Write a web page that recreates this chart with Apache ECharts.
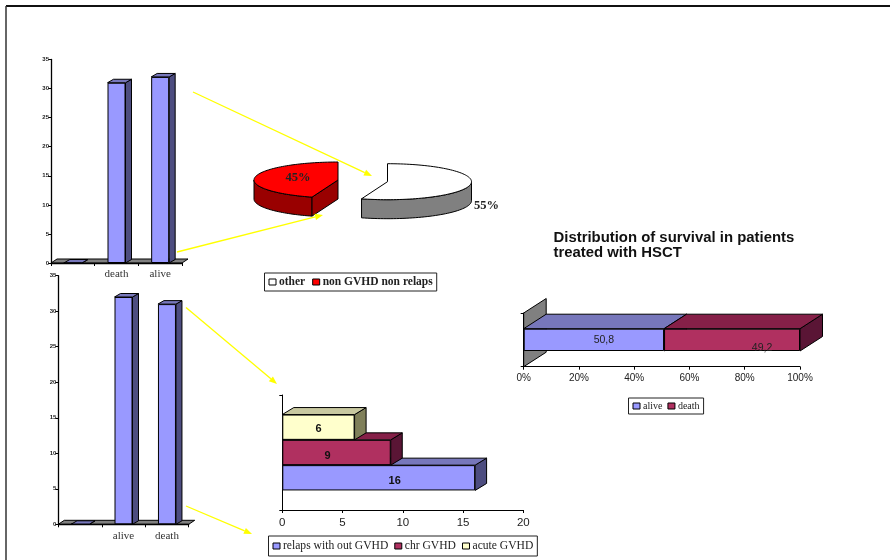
<!DOCTYPE html>
<html>
<head>
<meta charset="utf-8">
<title>Survival and outcomes after HSCT</title>
<style>html,body{margin:0;padding:0;background:#fff}#chart{width:890px;height:560px}</style>
<script src="https://cdn.jsdelivr.net/npm/echarts@6/dist/echarts.min.js"></script>
</head>
<body>
<div id="chart"></div>
<script>
// Values shown in each panel
var deathAliveCategories = ['', 'death', 'alive'];
var deathAliveValues = [0, 31, 32];
var aliveDeathCategories = ['', 'alive', 'death'];
var aliveDeathValues = [0, 32, 31];
var pieOther = 55;
var pieNonGvhd = 45;
var relapseNames = ['relaps with out GVHD', 'chr GVHD', 'acute GVHD'];
var relapseValues = [16, 9, 6];
var survivalNames = ['alive', 'death'];
var survivalValues = [50.8, 49.2];
var titleText = 'Distribution of survival in patients\ntreated with HSCT';

// Face colours of the extruded marks
var BLUE = { front: '#9999ff', top: '#7777bb', side: '#4d4d80' };
var WINE = { front: '#b03060', top: '#862048', side: '#5a1535' };
var CREAM = { front: '#ffffcc', top: '#c8c8a0', side: '#80805a' };
var SANS = '"Liberation Sans", Arial, sans-serif';
var SERIF = '"Liberation Serif", "Times New Roman", serif';

function txt(color, size, family, weight) {
  return { color: color, fontSize: size, fontFamily: family, fontWeight: weight || 'normal' };
}

function poly(points, fill, z2) {
  return {
    type: 'polygon', z2: z2 || 0,
    shape: { points: points },
    style: { fill: fill, stroke: '#000', lineWidth: 1 }
  };
}

// Side and top faces behind a bar rectangle x0..x1, y0 (top)..y1 (bottom)
function depthFaces(x0, y0, x1, y1, dx, dy, colors) {
  return [
    poly([[x1, y0], [x1 + dx, y0 + dy], [x1 + dx, y1 + dy], [x1, y1]], colors.side),
    poly([[x0, y0], [x0 + dx, y0 + dy], [x1 + dx, y0 + dy], [x1, y0]], colors.top)
  ];
}

// Upright bars: extrusion of each value on a category axis
function columnDepth(gridIndex, barWidth, dx, dy, colors) {
  return {
    type: 'custom', name: 'depth ' + gridIndex, xAxisIndex: gridIndex, yAxisIndex: gridIndex, z: 1,
    encode: { x: 0, y: 1 }, silent: true,
    renderItem: function (params, api) {
      var top = api.coord([api.value(0), api.value(1)]);
      var base = api.coord([api.value(0), 0]);
      return { type: 'group', children: depthFaces(top[0] - barWidth / 2, top[1], top[0] + barWidth / 2, base[1], dx, dy, colors) };
    }
  };
}

// Grey floor or wall plane following the axis
function floorPlane(gridIndex, dx, dy) {
  return {
    type: 'custom', name: 'floor ' + gridIndex, xAxisIndex: gridIndex, yAxisIndex: gridIndex, z: 0,
    data: [[0, 0]], silent: true,
    renderItem: function (params) {
      var c = params.coordSys, b = c.y + c.height;
      return poly([[c.x, b], [c.x + dx, b + dy], [c.x + c.width + dx, b + dy], [c.x + c.width, b]], '#808080');
    }
  };
}

function wallPlane(gridIndex, dx, dy) {
  return {
    type: 'custom', name: 'wall ' + gridIndex, xAxisIndex: gridIndex, yAxisIndex: gridIndex, z: 0,
    data: [[0, 0]], silent: true,
    renderItem: function (params) {
      var c = params.coordSys, b = c.y + c.height;
      return poly([[c.x, b], [c.x + dx, b + dy], [c.x + dx, c.y + dy], [c.x, c.y]], '#808080');
    }
  };
}

// Exploded elliptical wedge drawn from a share of the pie
function pieWedge(name, share, startShare, geom) {
  return {
    type: 'custom', name: name, coordinateSystem: 'none', z: 2, silent: true,
    data: [share], itemStyle: { color: geom.fill },
    renderItem: function () {
      var total = pieOther + pieNonGvhd;
      var a0 = startShare / total * 2 * Math.PI;
      var a1 = (startShare + share) / total * 2 * Math.PI;
      var cx = geom.cx, cy = geom.cy, rx = 84, ry = 18, depth = 19;
      var at = function (a) { return [cx + rx * Math.sin(a), cy - ry * Math.cos(a)]; };
      var arc = [], wall = [], i, a;
      for (i = 0; i <= 90; i++) {
        a = a0 + (a1 - a0) * i / 90;
        arc.push(at(a));
        if (Math.cos(a) <= 0) wall.push(at(a));
      }
      var lower = wall.slice().reverse().map(function (p) { return [p[0], p[1] + depth]; });
      var kids = [poly(wall.concat(lower), geom.wall)];
      if (geom.cutWall) {
        var v = at(a0);
        kids.push(poly([[cx, cy], v, [v[0], v[1] + depth], [cx, cy + depth]], geom.wall));
      }
      kids.push(poly([[cx, cy]].concat(arc), geom.fill));
      kids.push({
        type: 'text', z2: 5,
        style: {
          x: geom.labelX, y: geom.labelY, text: share + '%', align: 'center', verticalAlign: 'middle',
          fill: '#222', fontSize: 12.5, fontWeight: 'bold', fontFamily: SERIF
        }
      });
      return { type: 'group', children: kids };
    }
  };
}

// Horizontal clustered bars extruded in a single-category band
function clusterDepth(index, colors, dx, dy, barHeight) {
  return {
    type: 'custom', name: 'depth relapse ' + index, xAxisIndex: 2, yAxisIndex: 2, z: 1, silent: true,
    data: [[relapseValues[index], 0]], encode: { x: 0, y: 1 },
    renderItem: function (params, api) {
      var end = api.coord([api.value(0), 0]);
      var start = api.coord([0, 0]);
      var mid = end[1] - (index - 1) * barHeight;
      return { type: 'group', children: depthFaces(start[0], mid - barHeight / 2, end[0], mid + barHeight / 2, dx, dy, colors) };
    }
  };
}

// Stacked 100% segment extrusion
function stackDepth(index, colors, dx, dy, barHeight) {
  return {
    type: 'custom', name: 'depth survival ' + index, xAxisIndex: 3, yAxisIndex: 3, z: 1, silent: true,
    data: [[index ? survivalValues[0] : 0, survivalValues[index], 0]], encode: { x: [0, 1], y: 2 },
    renderItem: function (params, api) {
      var s = api.coord([api.value(0), 0]);
      var e = api.coord([api.value(0) + api.value(1), 0]);
      return { type: 'group', children: depthFaces(s[0], s[1] - barHeight / 2, e[0], s[1] + barHeight / 2, dx, dy, colors) };
    }
  };
}

function columnAxes(gridIndex, categories) {
  return {
    x: {
      type: 'category', gridIndex: gridIndex, data: categories,
      axisLine: { lineStyle: { color: '#000', width: 1.3 } },
      axisTick: { show: true, length: 3, lineStyle: { color: '#000' } },
      axisLabel: Object.assign(txt('#333', 11, SERIF), { margin: 6, interval: 0 })
    },
    y: {
      type: 'value', gridIndex: gridIndex, min: 0, max: 35, interval: 5,
      splitLine: { show: false },
      axisLine: { show: true, lineStyle: { color: '#000', width: 1.3 } },
      axisTick: { show: true, length: 3, lineStyle: { color: '#000' } },
      axisLabel: Object.assign(txt('#222', 6, SANS, 'bold'), { margin: 2 })
    }
  };
}

function frontBar(gridIndex, name, values) {
  return {
    type: 'bar', name: name, xAxisIndex: gridIndex, yAxisIndex: gridIndex, z: 3, data: values,
    barWidth: 18, itemStyle: { color: BLUE.front, borderColor: '#000', borderWidth: 1 }, silent: true
  };
}

function arrow(x0, y0, x1, y1) {
  var ang = Math.atan2(y1 - y0, x1 - x0), len = 8, half = 3.2;
  var bx = x1 - len * Math.cos(ang), by = y1 - len * Math.sin(ang);
  var nx = -Math.sin(ang) * half, ny = Math.cos(ang) * half;
  return [
    { type: 'line', z: 50, shape: { x1: x0, y1: y0, x2: bx, y2: by }, style: { stroke: '#ffff00', lineWidth: 1.3 } },
    { type: 'polygon', z: 50, shape: { points: [[x1, y1], [bx + nx, by + ny], [bx - nx, by - ny]] }, style: { fill: '#ffff00' } }
  ];
}

function boxedLegend(names, left, top, textStyle, gap, pad) {
  return {
    data: names, left: left, top: top, orient: 'horizontal', selectedMode: false,
    icon: 'rect', itemWidth: 7, itemHeight: 6, itemGap: gap,
    itemStyle: { borderColor: '#000', borderWidth: 1 },
    backgroundColor: '#fff', borderColor: '#222', borderWidth: 1,
    padding: pad,
    textStyle: Object.assign(textStyle, { padding: [0, 0, 0, -2] })
  };
}

function bandBar(index, colors, offset) {
  return {
    type: 'bar', name: relapseNames[index], xAxisIndex: 2, yAxisIndex: 2, z: 3, data: [relapseValues[index]],
    barWidth: barH, barGap: '0%', itemStyle: { color: colors.front, borderColor: '#000', borderWidth: 1 }, silent: true,
    label: Object.assign(txt('#111', 11, SANS, 'bold'), { show: true, position: 'inside', offset: offset })
  };
}

function commaValue(p) { return String(p.value).replace('.', ','); }

var axes0 = columnAxes(0, deathAliveCategories);
var axes1 = columnAxes(1, aliveDeathCategories);
var barH = 25.3;

var option = {
  animation: false,
  backgroundColor: '#fff',
  title: {
    text: titleText, left: 553.5, top: 230, padding: 0,
    textStyle: { color: '#111', fontSize: 14.9, fontWeight: 'bold', fontFamily: SANS, lineHeight: 15 }
  },
  grid: [
    { left: 51, top: 59.5, width: 131, height: 203.5 },
    { left: 58.3, top: 275.7, width: 130.4, height: 248.6 },
    { left: 282.3, top: 395, width: 241, height: 115 },
    { left: 523.7, top: 313, width: 276.3, height: 53.7 }
  ],
  xAxis: [
    axes0.x, axes1.x,
    {
      type: 'value', gridIndex: 2, min: 0, max: 20, interval: 5, splitLine: { show: false },
      axisLine: { show: true, lineStyle: { color: '#000' } },
      axisTick: { show: true, length: 3, lineStyle: { color: '#000' } },
      axisLabel: Object.assign(txt('#222', 11.5, SANS), { margin: 7 })
    },
    {
      type: 'value', gridIndex: 3, min: 0, max: 100, interval: 20, splitLine: { show: false },
      axisLine: { show: true, lineStyle: { color: '#000' } },
      axisTick: { show: true, length: 3, lineStyle: { color: '#000' } },
      axisLabel: Object.assign(txt('#222', 10, SANS), { margin: 6.5, formatter: '{value}%' })
    }
  ],
  yAxis: [
    axes0.y, axes1.y,
    {
      type: 'category', gridIndex: 2, data: [''],
      axisLine: { show: true, lineStyle: { color: '#000' } },
      axisTick: { show: true, length: 3, lineStyle: { color: '#000' } },
      axisLabel: { show: false }
    },
    {
      type: 'category', gridIndex: 3, data: [''],
      axisLine: { show: true, lineStyle: { color: '#000' } },
      axisTick: { show: true, length: 3, lineStyle: { color: '#000' } },
      axisLabel: { show: false }
    }
  ],
  legend: [
    boxedLegend(['other', 'non GVHD non relaps'], 264.5, 273, txt('#222', 11.5, SERIF, 'bold'), 7, [3, 4, 3, 4]),
    boxedLegend(relapseNames, 268.5, 536, txt('#222', 11.6, SERIF), 6, [4, 4, 4, 4]),
    boxedLegend(survivalNames, 628.5, 398, txt('#222', 10, SERIF), 5, [3, 4, 3, 4])
  ],
  series: [
    floorPlane(0, 6, -4),
    Object.assign(columnDepth(0, 18, 6, -3.5, BLUE), { data: deathAliveValues.map(function (v, i) { return [i, v]; }) }),
    frontBar(0, 'patients by outcome', deathAliveValues),

    floorPlane(1, 6, -4),
    Object.assign(columnDepth(1, 18, 6, -3.5, BLUE), { data: aliveDeathValues.map(function (v, i) { return [i, v]; }) }),
    frontBar(1, 'patients by status', aliveDeathValues),

    pieWedge('other', pieOther, 0, { cx: 387.5, cy: 181.7, fill: '#ffffff', wall: '#808080', labelX: 486.5, labelY: 205.5 }),
    pieWedge('non GVHD non relaps', pieNonGvhd, pieOther, { cx: 338, cy: 180, fill: '#ff0000', wall: '#990000', cutWall: true, labelX: 298, labelY: 178 }),

    clusterDepth(0, BLUE, 11.5, -7, barH),
    clusterDepth(1, WINE, 11.5, -7, barH),
    clusterDepth(2, CREAM, 11.5, -7, barH),
    // Within one category band the first bar sits on top, so the shortest comes first
    bandBar(2, CREAM, [0, 2]),
    bandBar(1, WINE, [-9, 3]),
    bandBar(0, BLUE, [16, 3]),

    wallPlane(3, 22.5, -14.5),
    stackDepth(0, BLUE, 22.5, -14.5, 22.3),
    stackDepth(1, WINE, 22.5, -14.5, 22.3),
    {
      type: 'bar', name: survivalNames[0], xAxisIndex: 3, yAxisIndex: 3, z: 3, stack: 'survival', data: [survivalValues[0]],
      barWidth: 22.3, itemStyle: { color: BLUE.front, borderColor: '#000', borderWidth: 1 }, silent: true,
      label: Object.assign(txt('#222', 10.5, SANS), { show: true, position: 'inside', offset: [10, 0], formatter: commaValue })
    },
    {
      type: 'bar', name: survivalNames[1], xAxisIndex: 3, yAxisIndex: 3, z: 3, stack: 'survival', data: [survivalValues[1]],
      barWidth: 22.3, itemStyle: { color: WINE.front, borderColor: '#000', borderWidth: 1 }, silent: true,
      label: Object.assign(txt('#222', 10.5, SANS), { show: true, position: 'inside', offset: [30, 8], formatter: commaValue })
    }
  ],
  graphic: [
    { type: 'line', z: 40, shape: { x1: 6, y1: 6, x2: 890, y2: 6 }, style: { stroke: '#111', lineWidth: 2 } },
    { type: 'line', z: 40, shape: { x1: 6, y1: 6, x2: 6, y2: 560 }, style: { stroke: '#333', lineWidth: 1.5 } }
  ].concat(
    arrow(193, 92, 372, 176),
    arrow(177, 252, 323, 215),
    arrow(186, 307.5, 277, 384),
    arrow(186, 506, 252, 534)
  )
};

var chart = echarts.init(document.getElementById('chart'), null, { renderer: 'canvas' });
chart.setOption(option);
</script>
</body>
</html>
